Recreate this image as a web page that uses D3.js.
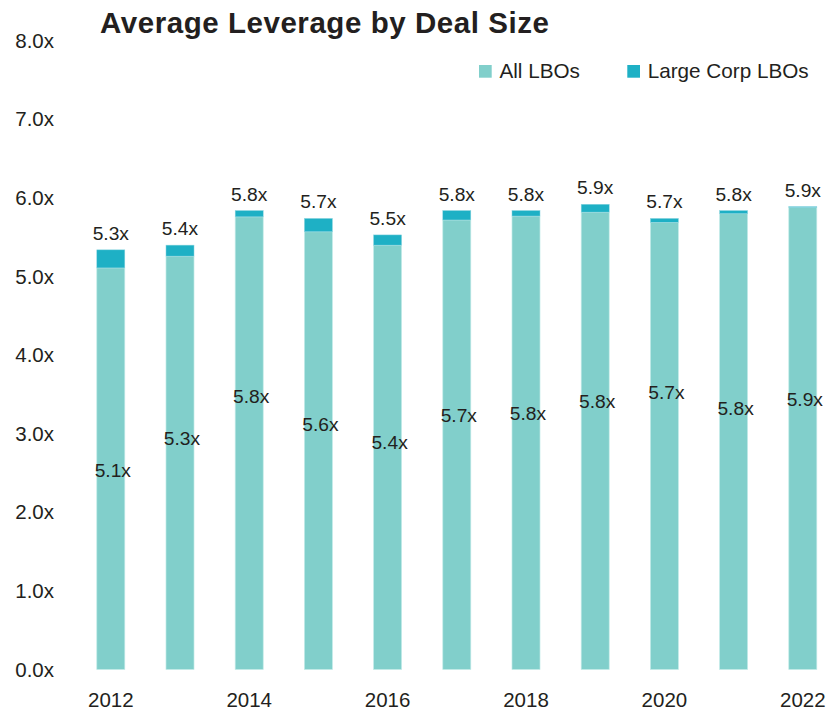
<!DOCTYPE html>
<html>
<head>
<meta charset="utf-8">
<script src="https://cdn.jsdelivr.net/npm/d3@7/dist/d3.min.js"></script>
<style>
  html, body { margin: 0; padding: 0; background: #fff; }
  svg text { font-family: "Liberation Sans", Arial, Helvetica, sans-serif; fill: #231f20; }
</style>
</head>
<body>
<div id="chart"></div>
<script>
// Average leverage (debt / EBITDA) by year
const years = ["2012", "2013", "2014", "2015", "2016", "2017", "2018", "2019", "2020", "2021", "2022"];
const allLBOs = [5.11, 5.26, 5.76, 5.57, 5.40, 5.72, 5.77, 5.82, 5.69, 5.80, 5.88];
const largeCorpLBOs = [5.34, 5.40, 5.84, 5.74, 5.53, 5.84, 5.84, 5.92, 5.74, 5.84, 5.89];
const seriesNames = ["All LBOs", "Large Corp LBOs"];
const yTicks = [0, 1, 2, 3, 4, 5, 6, 7, 8];
const xTickYears = ["2012", "2014", "2016", "2018", "2020", "2022"];

// Height (in leverage units) at which each in-bar label sits
const innerLabelLevel = [2.54, 2.95, 3.48, 3.12, 2.90, 3.24, 3.27, 3.42, 3.53, 3.33, 3.44];

const W = 830, H = 712;
const colors = { all: "#81cfcb", large: "#1eb0c5" };
const fmt = v => d3.format(".1f")(v) + "x";

const svg = d3.select("#chart").append("svg")
  .attr("width", W).attr("height", H);

const x = d3.scaleBand()
  .domain(years)
  .range([76.2, 837.4])
  .paddingInner(0.595)
  .paddingOuter(0.2975);

const y = d3.scaleLinear().domain([0, 8]).range([669.5, 40.8]);

// Title
svg.append("text")
  .attr("x", 100).attr("y", 33)
  .attr("font-size", 29.5).attr("font-weight", "bold")
  .attr("letter-spacing", 0.55)
  .text("Average Leverage by Deal Size");

// Y axis (labels only)
const yAxis = svg.append("g")
  .attr("transform", "translate(54,0)")
  .call(d3.axisLeft(y).tickValues(yTicks).tickFormat(fmt).tickSize(0).tickPadding(0));
yAxis.select(".domain").remove();
yAxis.selectAll("text")
  .attr("font-size", 20.5)
  .attr("font-family", null)
  .attr("fill", "#231f20");

// X axis (labels only)
const xAxis = svg.append("g")
  .attr("transform", "translate(0,669.5)")
  .call(d3.axisBottom(x).tickValues(xTickYears).tickSize(0).tickPadding(0));
xAxis.select(".domain").remove();
xAxis.selectAll("text")
  .attr("font-size", 20.5)
  .attr("font-family", null)
  .attr("fill", "#231f20")
  .attr("dy", null)
  .attr("y", 37);

const rows = years.map((yr, i) => ({ yr, all: allLBOs[i], large: largeCorpLBOs[i], lvl: innerLabelLevel[i] }));

// All LBOs bars
svg.append("g").selectAll("rect")
  .data(rows).join("rect")
  .attr("x", d => x(d.yr))
  .attr("width", x.bandwidth())
  .attr("y", d => y(d.all))
  .attr("height", d => y(0) - y(d.all))
  .attr("fill", colors.all)
  .attr("stroke", "#c4ebe8").attr("stroke-width", 0.7);

// Large Corp increment stacked on top
svg.append("g").selectAll("rect")
  .data(rows).join("rect")
  .attr("x", d => x(d.yr))
  .attr("width", x.bandwidth())
  .attr("y", d => y(d.large))
  .attr("height", d => y(d.all) - y(d.large))
  .attr("fill", colors.large)
  .attr("stroke", "#8fd6e0").attr("stroke-width", 0.5);

// Large Corp labels above the stack
svg.append("g").selectAll("text")
  .data(rows).join("text")
  .attr("x", d => x(d.yr) + x.bandwidth() / 2)
  .attr("y", d => y(d.large) - 10)
  .attr("text-anchor", "middle")
  .attr("font-size", 19.2)
  .text(d => fmt(d.large));

// All LBOs labels inside the bars
svg.append("g").selectAll("text")
  .data(rows).join("text")
  .attr("x", d => x(d.yr) + x.bandwidth() / 2 + 2)
  .attr("y", d => y(d.lvl) + 7)
  .attr("text-anchor", "middle")
  .attr("font-size", 19.2)
  .text(d => fmt(d.all));

// Legend
const legendX = [479, 627.3];
const legend = svg.append("g").selectAll("g")
  .data(seriesNames).join("g")
  .attr("transform", (d, i) => `translate(${legendX[i]},65)`);
legend.append("rect")
  .attr("width", 12.7).attr("height", 12.7)
  .attr("fill", (d, i) => i === 0 ? colors.all : colors.large);
legend.append("text")
  .attr("x", 20.4).attr("y", 12.8)
  .attr("font-size", 20.7)
  .text(d => d);
</script>
</body>
</html>
